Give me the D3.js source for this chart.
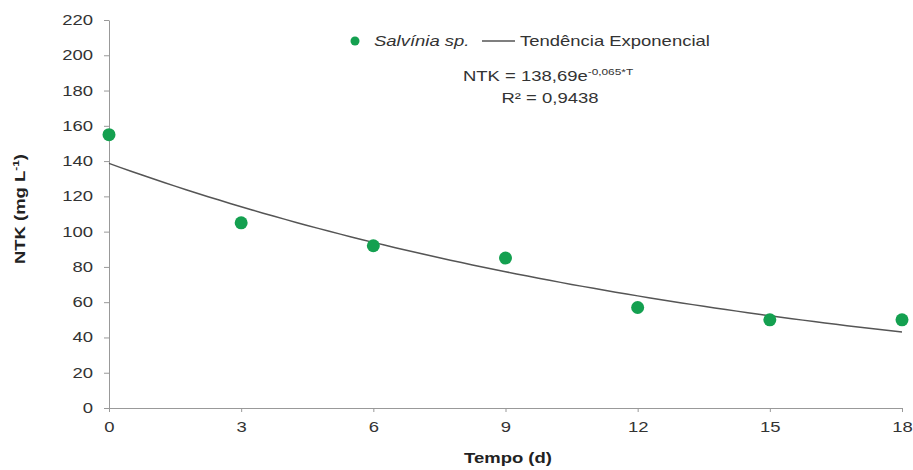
<!DOCTYPE html>
<html>
<head>
<meta charset="utf-8">
<script src="https://cdn.jsdelivr.net/npm/d3@7"></script>
<style>
  body { margin: 0; background: #fff; }
  text { font-family: "Liberation Sans", Arial, sans-serif; }
</style>
</head>
<body>
<script>
var width = 913,
    height = 470,
    stretchX = 1.32;   // the reference text is drawn wide

// data
var days = [0, 3, 6, 9, 12, 15, 18];
var ntk = [155, 105, 92, 85, 57, 50, 50];
var xTicks = [0, 3, 6, 9, 12, 15, 18];
var yTicks = [0, 20, 40, 60, 80, 100, 120, 140, 160, 180, 200, 220];
// trend equation shown on the chart: NTK = 138,69e^(-0,065*T)
var trendA = 138.69,
    trendB = -0.065;

var svg = d3.select('body')
    .append('svg')
    .attr('width', width)
    .attr('height', height);

// widen a text element around its anchor point
function widen(sel, extra) {
    sel.each(function() {
        var t = d3.select(this);
        var tx = +t.attr('x') || 0,
            ty = +t.attr('y') || 0;
        t.attr('x', 0).attr('y', 0)
         .attr('transform', 'translate(' + tx + ',' + ty + ')' + (extra || '') + ' scale(' + stretchX + ',1)');
    });
}

var x = d3.scaleLinear().domain([0, 18]).range([109, 902]);
var y = d3.scaleLinear().domain([0, 220]).range([408, 20]);

// y axis
var yAxis = svg.append('g')
    .attr('transform', 'translate(' + x(0) + ',0)')
    .call(d3.axisLeft(y).tickValues(yTicks).tickSize(5).tickPadding(11).tickSizeOuter(0));
yAxis.select('.domain').attr('stroke', '#999');
yAxis.selectAll('.tick line').attr('stroke', '#999');
yAxis.selectAll('.tick text')
    .attr('fill', '#333')
    .style('font-size', '14px')
    .call(widen);

// x axis
var xAxis = svg.append('g')
    .attr('transform', 'translate(0,' + y(0) + ')')
    .call(d3.axisBottom(x).tickValues(xTicks).tickSize(4).tickPadding(10).tickSizeOuter(0));
xAxis.select('.domain').attr('stroke', '#999');
xAxis.selectAll('.tick line').attr('stroke', '#999');
xAxis.selectAll('.tick text')
    .attr('fill', '#333')
    .style('font-size', '14px')
    .call(widen);

// trend line
var tSteps = d3.range(0, 18.01, 0.25);
var line = d3.line()
    .x(function(t) { return x(t); })
    .y(function(t) { return y(trendA * Math.exp(trendB * t)); });

svg.append('path')
    .datum(tSteps)
    .attr('d', line)
    .attr('fill', 'none')
    .attr('stroke', '#555')
    .attr('stroke-width', 1.5);

// points
svg.selectAll('circle.pt')
    .data(days)
    .enter()
    .append('circle')
    .attr('class', 'pt')
    .attr('cx', function(d) { return x(d); })
    .attr('cy', function(d, i) { return y(ntk[i]); })
    .attr('r', 6.5)
    .attr('fill', '#14a050');

// axis titles
svg.append('text')
    .attr('x', 25).attr('y', 209)
    .attr('text-anchor', 'middle')
    .style('font-size', '14px')
    .style('font-weight', 'bold')
    .attr('fill', '#222')
    .html('NTK (mg L<tspan dy="-6" font-size="9">-1</tspan><tspan dy="6">)</tspan>')
    .call(widen, ' rotate(-90)');

svg.append('text')
    .attr('x', 508)
    .attr('y', 463)
    .attr('text-anchor', 'middle')
    .style('font-size', '14px')
    .style('font-weight', 'bold')
    .attr('fill', '#222')
    .text('Tempo (d)')
    .call(widen);

// legend
var legend = svg.append('g');
legend.append('circle')
    .attr('cx', 355).attr('cy', 41).attr('r', 4.5)
    .attr('fill', '#14a050');
legend.append('text')
    .attr('x', 374).attr('y', 46)
    .style('font-size', '14px')
    .style('font-style', 'italic')
    .attr('fill', '#333')
    .text('Salvínia sp.')
    .call(widen);
legend.append('line')
    .attr('x1', 482).attr('x2', 515)
    .attr('y1', 41).attr('y2', 41)
    .attr('stroke', '#555').attr('stroke-width', 1.5);
legend.append('text')
    .attr('x', 520).attr('y', 46)
    .style('font-size', '14px')
    .attr('fill', '#333')
    .text('Tendência Exponencial')
    .call(widen);

// equation
svg.append('text')
    .attr('x', 463).attr('y', 81)
    .style('font-size', '14px')
    .attr('fill', '#333')
    .html('NTK = 138,69e<tspan dy="-6" font-size="9">-0,065*T</tspan>')
    .call(widen);
svg.append('text')
    .attr('x', 550).attr('y', 103)
    .attr('text-anchor', 'middle')
    .style('font-size', '14px')
    .attr('fill', '#333')
    .text('R² = 0,9438')
    .call(widen);
</script>
</body>
</html>
